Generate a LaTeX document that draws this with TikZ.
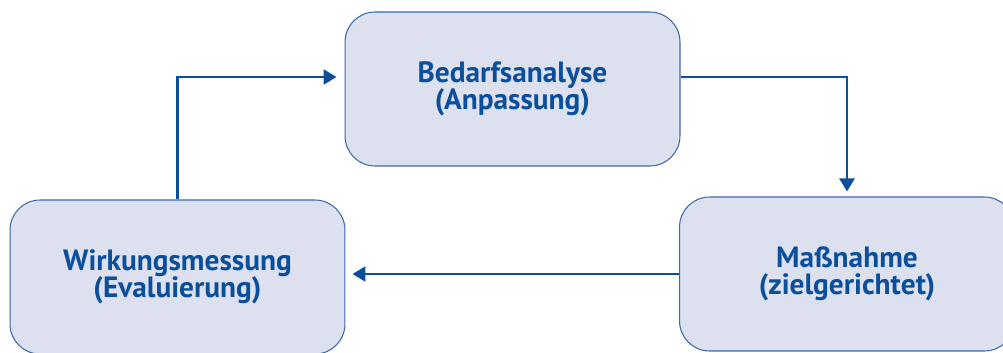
\documentclass[tikz,border=0pt]{standalone}
\usepackage{fontspec}
\setsansfont{PT Sans}
\usepackage{xcolor}
\definecolor{cycleFill}{HTML}{DDE1EF}
\definecolor{cycleBorder}{HTML}{3A68A8}
\definecolor{cycleBlue}{HTML}{0B4F9B}
\usetikzlibrary{arrows.meta}

\begin{document}
\begin{tikzpicture}[x=0.02cm, y=-0.02cm,
    phase/.style={draw=cycleBorder, line width=0.6pt, fill=cycleFill, rounded corners=0.6cm,
      minimum width=6.7cm, minimum height=3.08cm, align=center, text=cycleBlue,
      font=\sffamily\bfseries\fontsize{16.7}{15.6}\selectfont},
    flow/.style={draw=cycleBlue, line width=1.4pt, -{Triangle[length=0.26cm, width=0.3cm]}}]
  \useasboundingbox (0,0) rectangle (1003,352);
  \node[phase] (bedarf) at (512.5,89) {Bedarfsanalyse\\(Anpassung)};
  \node[phase] (wirkung) at (177.5,277) {Wirkungsmessung\\(Evaluierung)};
  \node[phase] (massnahme) at (847,274) {Maßnahme\\(zielgerichtet)};
  \draw[flow, shorten >=0.1cm] ([yshift=0.24cm]bedarf.east) -| (massnahme.north);
  \draw[flow, shorten >=0.14cm] (massnahme.west) -- (wirkung.east |- massnahme.west);
  \draw[flow, shorten >=0.16cm] (wirkung.north) |- ([yshift=0.24cm]bedarf.west);
\end{tikzpicture}
\end{document}
